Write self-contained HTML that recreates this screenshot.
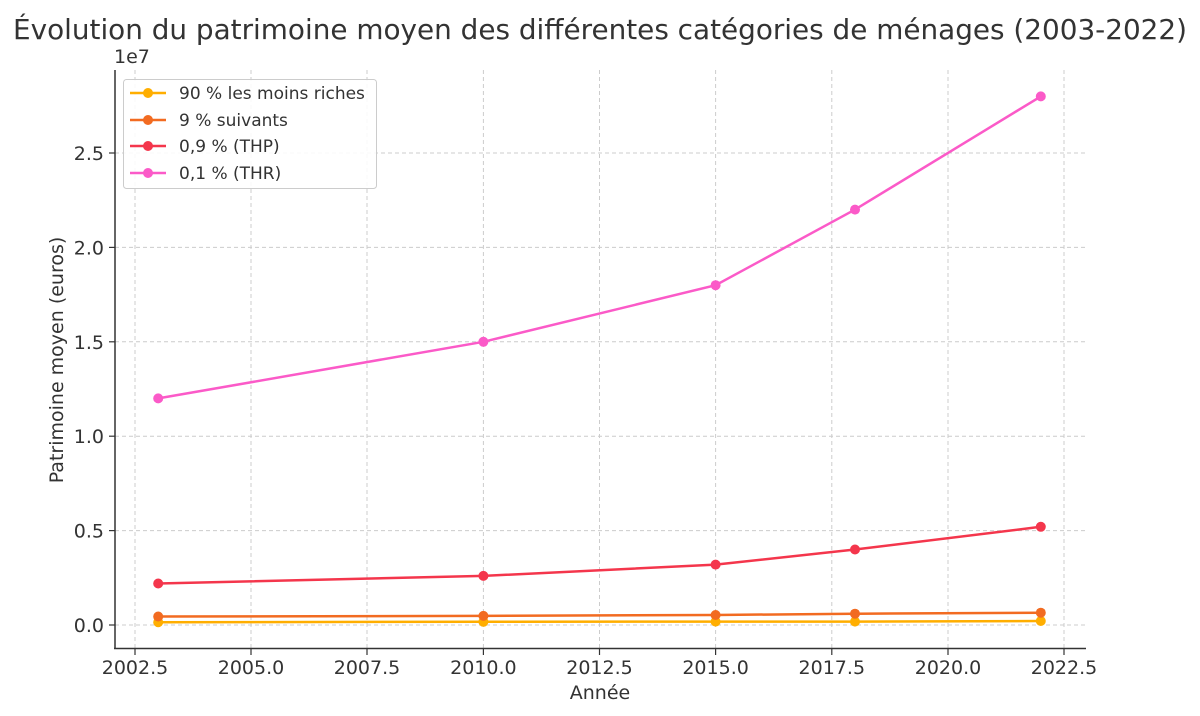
<!DOCTYPE html>
<html><head><meta charset="utf-8"><style>
body{margin:0;background:#fff}
svg{display:block;font-family:"DejaVu Sans","Liberation Sans",sans-serif}
</style></head><body>
<svg width="1200" height="716" viewBox="0 0 1200 716">
<rect width="1200" height="716" fill="#fff"/>
<text x="600" y="39" font-size="27.5" fill="#333" text-anchor="middle" textLength="1174" lengthAdjust="spacingAndGlyphs">Évolution du patrimoine moyen des différentes catégories de ménages (2003-2022)</text>
<g stroke="#ccc" stroke-width="1" stroke-dasharray="4,3">
<line x1="135" y1="70" x2="135" y2="648"/><line x1="251" y1="70" x2="251" y2="648"/><line x1="367" y1="70" x2="367" y2="648"/><line x1="483.4" y1="70" x2="483.4" y2="648"/><line x1="599.5" y1="70" x2="599.5" y2="648"/><line x1="715.6" y1="70" x2="715.6" y2="648"/><line x1="831.8" y1="70" x2="831.8" y2="648"/><line x1="948" y1="70" x2="948" y2="648"/><line x1="1064" y1="70" x2="1064" y2="648"/>
<line x1="115" y1="625" x2="1086" y2="625"/><line x1="115" y1="530.6" x2="1086" y2="530.6"/><line x1="115" y1="436.2" x2="1086" y2="436.2"/><line x1="115" y1="341.8" x2="1086" y2="341.8"/><line x1="115" y1="247.4" x2="1086" y2="247.4"/><line x1="115" y1="153" x2="1086" y2="153"/>
</g>
<g stroke="#333" stroke-width="1.5" fill="none">
<line x1="115" y1="70" x2="115" y2="649"/><line x1="114" y1="648.5" x2="1086" y2="648.5"/>
<g stroke-width="1.2">
<line x1="135" y1="649" x2="135" y2="655"/><line x1="251" y1="649" x2="251" y2="655"/><line x1="367" y1="649" x2="367" y2="655"/><line x1="483.4" y1="649" x2="483.4" y2="655"/><line x1="599.5" y1="649" x2="599.5" y2="655"/><line x1="715.6" y1="649" x2="715.6" y2="655"/><line x1="831.8" y1="649" x2="831.8" y2="655"/><line x1="948" y1="649" x2="948" y2="655"/><line x1="1064" y1="649" x2="1064" y2="655"/>
<line x1="109" y1="625" x2="115" y2="625"/><line x1="109" y1="530.6" x2="115" y2="530.6"/><line x1="109" y1="436.2" x2="115" y2="436.2"/><line x1="109" y1="341.8" x2="115" y2="341.8"/><line x1="109" y1="247.4" x2="115" y2="247.4"/><line x1="109" y1="153" x2="115" y2="153"/>
</g></g>
<g font-size="19" fill="#333" text-anchor="middle">
<text x="135" y="674">2002.5</text><text x="251" y="674">2005.0</text><text x="367" y="674">2007.5</text><text x="483.4" y="674">2010.0</text><text x="599.5" y="674">2012.5</text><text x="715.6" y="674">2015.0</text><text x="831.8" y="674">2017.5</text><text x="948" y="674">2020.0</text><text x="1064" y="674">2022.5</text>
<text x="600" y="699">Année</text>
</g>
<g font-size="19" fill="#333" text-anchor="end">
<text x="104" y="632">0.0</text><text x="104" y="537.6">0.5</text><text x="104" y="443.2">1.0</text><text x="104" y="348.8">1.5</text><text x="104" y="254.4">2.0</text><text x="104" y="160">2.5</text>
</g>
<text x="114" y="63" font-size="19" fill="#333">1e7</text>
<text transform="translate(63,360) rotate(-90)" font-size="19" fill="#333" text-anchor="middle">Patrimoine moyen (euros)</text>
<g stroke-width="2.5" fill="none">
<polyline stroke="#ffae00" points="158.2,622.2 483.4,621.8 715.6,621.6 855,621.6 1040.8,621"/>
<polyline stroke="#f26b21" points="158.2,616.5 483.4,615.9 715.6,615 855,613.7 1040.8,612.7"/>
<polyline stroke="#f4364c" points="158.2,583.5 483.4,575.9 715.6,564.6 855,549.5 1040.8,526.8"/>
<polyline stroke="#fb5ac8" points="158.2,398.4 483.4,341.8 715.6,285.2 855,209.6 1040.8,96.4"/>
</g>
<g fill="#ffae00"><circle cx="158.2" cy="622.2" r="5"/><circle cx="483.4" cy="621.8" r="5"/><circle cx="715.6" cy="621.6" r="5"/><circle cx="855" cy="621.6" r="5"/><circle cx="1040.8" cy="621" r="5"/></g>
<g fill="#f26b21"><circle cx="158.2" cy="616.5" r="5"/><circle cx="483.4" cy="615.9" r="5"/><circle cx="715.6" cy="615" r="5"/><circle cx="855" cy="613.7" r="5"/><circle cx="1040.8" cy="612.7" r="5"/></g>
<g fill="#f4364c"><circle cx="158.2" cy="583.5" r="5"/><circle cx="483.4" cy="575.9" r="5"/><circle cx="715.6" cy="564.6" r="5"/><circle cx="855" cy="549.5" r="5"/><circle cx="1040.8" cy="526.8" r="5"/></g>
<g fill="#fb5ac8"><circle cx="158.2" cy="398.4" r="5"/><circle cx="483.4" cy="341.8" r="5"/><circle cx="715.6" cy="285.2" r="5"/><circle cx="855" cy="209.6" r="5"/><circle cx="1040.8" cy="96.4" r="5"/></g>
<rect x="123.5" y="79.5" width="253" height="109" rx="3" fill="#fff" fill-opacity="0.85" stroke="#ccc"/>
<g stroke-width="2.5">
<line x1="130" y1="93" x2="166" y2="93" stroke="#ffae00"/><circle cx="148" cy="93" r="5" fill="#ffae00"/>
<line x1="130" y1="120" x2="166" y2="120" stroke="#f26b21"/><circle cx="148" cy="120" r="5" fill="#f26b21"/>
<line x1="130" y1="146" x2="166" y2="146" stroke="#f4364c"/><circle cx="148" cy="146" r="5" fill="#f4364c"/>
<line x1="130" y1="173" x2="166" y2="173" stroke="#fb5ac8"/><circle cx="148" cy="173" r="5" fill="#fb5ac8"/>
</g>
<g font-size="17" fill="#333">
<text x="179" y="99">90 % les moins riches</text>
<text x="179" y="126">9 % suivants</text>
<text x="179" y="152">0,9 % (THP)</text>
<text x="179" y="179">0,1 % (THR)</text>
</g>
</svg>
</body></html>
